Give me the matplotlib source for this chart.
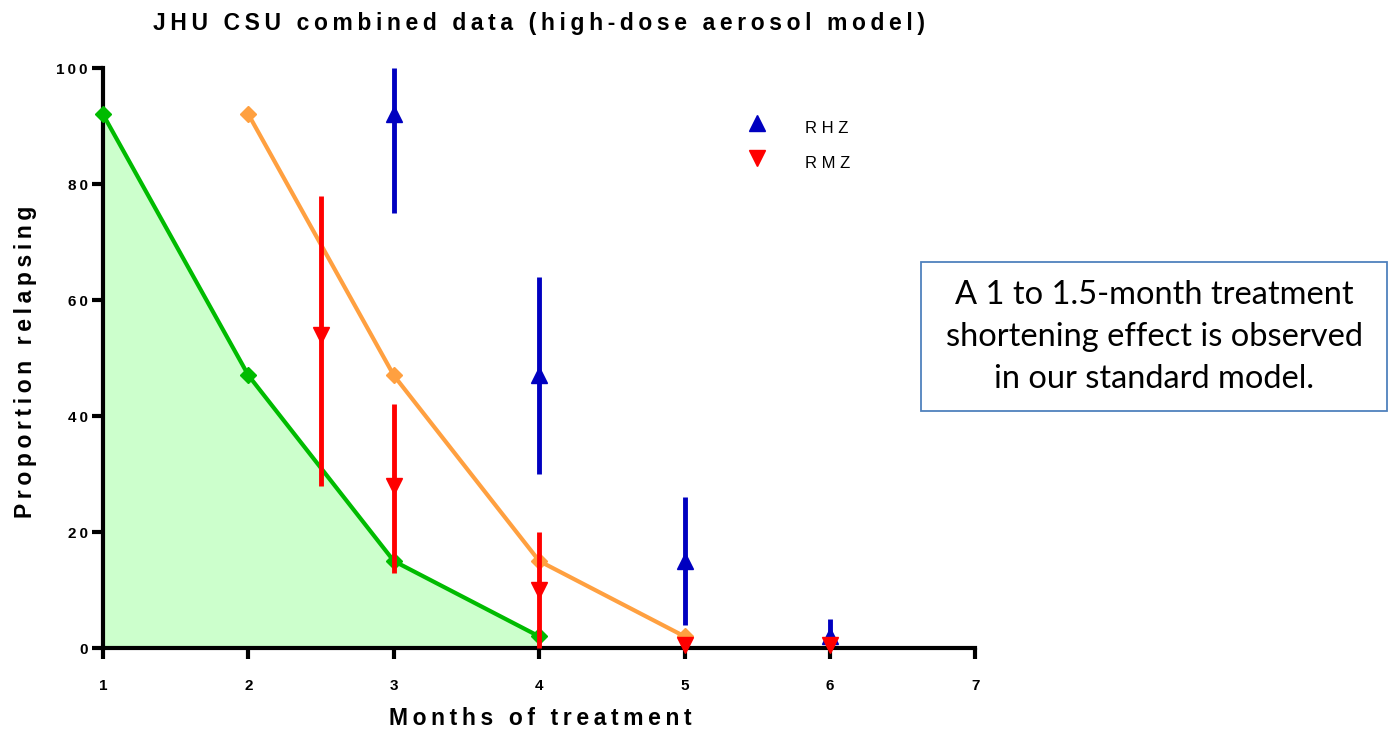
import matplotlib
matplotlib.use("Agg")
import matplotlib.pyplot as plt
from matplotlib.patches import Rectangle

# data
months_green = [1, 2, 3, 4]
relapse_green = [92, 47, 15, 2]

months_orange = [2, 3, 4, 5]
relapse_orange = [92, 47, 15, 2]

rhz_months = [3, 4, 5, 6]
rhz_mean = [92, 47, 15, 2]
rhz_low = [75, 30, 4, 0]
rhz_high = [100, 64, 26, 5]

rmz_months = [2.5, 3, 4, 5, 6]
rmz_mean = [54, 28, 10, 0.5, 0.5]
rmz_low = [28, 13, 0, 0, 0]
rmz_high = [78, 42, 20, 0.5, 0.5]

xticks = [1, 2, 3, 4, 5, 6, 7]
yticks = [0, 20, 40, 60, 80, 100]


def spaced(s, sep="\u2009"):
    # fake letter spacing like the original Prism export
    return sep.join(s)


plt.rcParams["font.family"] = ["Liberation Sans", "DejaVu Sans"]

fig = plt.figure(figsize=(13.89, 7.31), dpi=100)
ax = fig.add_axes([0.0742, 0.1135, 0.628, 0.7934])

ax.fill_between(months_green, relapse_green, 0, color="#ccffcc", lw=0, zorder=1)
ax.plot(months_green, relapse_green, color="#00bb00", lw=3, marker="D", ms=8, zorder=3, clip_on=False)
ax.plot(months_orange, relapse_orange, color="#ffa040", lw=3, marker="D", ms=8, zorder=3, clip_on=False)

rhz_err = [[m - l for m, l in zip(rhz_mean, rhz_low)], [h - m for m, h in zip(rhz_mean, rhz_high)]]
rmz_err = [[m - l for m, l in zip(rmz_mean, rmz_low)], [h - m for m, h in zip(rmz_mean, rmz_high)]]

ax.errorbar(rhz_months, rhz_mean, yerr=rhz_err, fmt="^", color="#0000c0", ms=12,
            elinewidth=3.5, capsize=0, zorder=4, clip_on=False)
ax.errorbar(rmz_months, rmz_mean, yerr=rmz_err, fmt="v", color="#ff0000", ms=12,
            elinewidth=3.5, capsize=0, zorder=5, clip_on=False)

ax.set_xlim(1, 7)
ax.set_ylim(0, 100)
ax.set_xticks(xticks)
ax.set_yticks(yticks)
ax.set_xticklabels([str(t) for t in xticks], fontsize=11, fontweight="bold")
ax.set_yticklabels([spaced(str(t)) for t in yticks], fontsize=11, fontweight="bold")
for side in ["top", "right"]:
    ax.spines[side].set_visible(False)
for side in ["left", "bottom"]:
    ax.spines[side].set_linewidth(3)
ax.tick_params(axis="x", direction="out", length=8, width=3, pad=14)
ax.tick_params(axis="y", direction="out", length=8, width=3, pad=3)

fig.text(0.388, 0.968, spaced("JHU CSU combined data (high-dose aerosol model)"),
         ha="center", va="center", fontsize=16.5, fontweight="bold")
fig.text(0.389, 0.017, spaced("Months of treatment"), ha="center", va="center",
         fontsize=16.5, fontweight="bold")
fig.text(0.018, 0.505, spaced("Proportion relapsing"), ha="center", va="center",
         rotation=90, fontsize=16.5, fontweight="bold")

# legend drawn by hand to match the placement
ax.plot([5.5], [90.5], marker="^", color="#0000c0", ms=12, ls="none", clip_on=False)
ax.plot([5.5], [84.5], marker="v", color="#ff0000", ms=12, ls="none", clip_on=False)
ax.text(5.83, 89.6, spaced("RHZ", " "), fontsize=12, va="center")
ax.text(5.83, 83.6, spaced("RMZ", " "), fontsize=12, va="center")

# annotation box
fig.patches.append(Rectangle((921 / 1389, 1 - 411 / 731), 466 / 1389, 149 / 731,
                             transform=fig.transFigure, fill=False,
                             edgecolor="#4f81bd", lw=1.3))
fig.text((921 + 1387) / 2 / 1389, 1 - 337 / 731,
         "A 1 to 1.5-month treatment\nshortening effect is observed\nin our standard model.",
         ha="center", va="center", fontsize=23.5, family="Lato", linespacing=1.5)

fig.savefig("out.png", dpi=100)
